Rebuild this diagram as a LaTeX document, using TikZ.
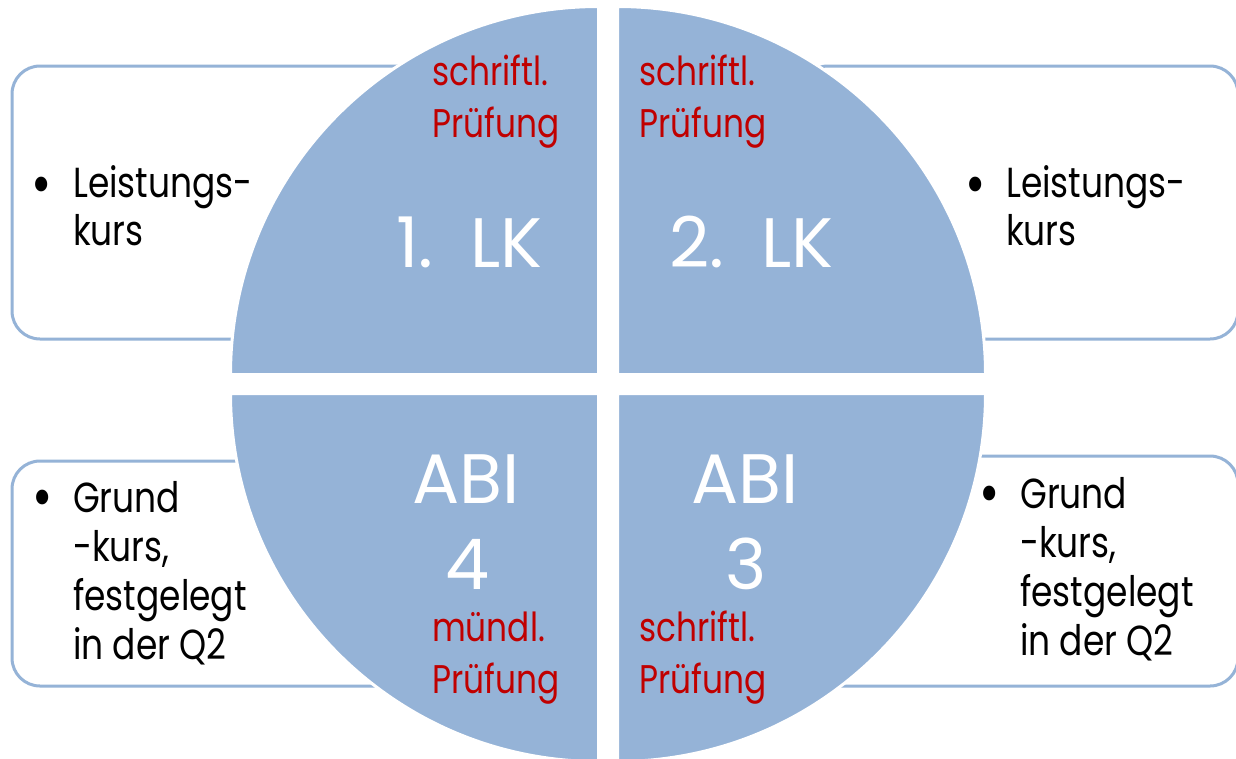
\documentclass[tikz,border=0pt]{standalone}
\usepackage{fontspec}
\setmainfont{Poppins}[FakeStretch=0.82]
\newfontfamily\bigfont{Poppins}
\definecolor{qblue}{HTML}{95B3D7}
\definecolor{qred}{HTML}{C00000}
\begin{document}
\begin{tikzpicture}[x=1pt,y=-1pt,
  boxst/.style={draw=qblue, line width=3pt, rounded corners=28pt, fill=white},
  quad/.style={fill=qblue, draw=white, line width=3pt},
  txt/.style={anchor=base west, inner sep=0pt, font=\fontsize{42}{49}\selectfont, text=black},
  bul/.style={anchor=center, inner sep=0pt, font=\fontsize{60}{60}\selectfont, text=black},
  redt/.style={anchor=base west, inner sep=0pt, font=\fontsize{40}{44}\selectfont, text=qred},
  bigt/.style={anchor=base west, inner sep=0pt, font=\bigfont\fontsize{70}{80}\selectfont, text=white}]
\useasboundingbox (0,0) rectangle (1236,758);
\fill[white] (0,0) rectangle (1236,758);
% side boxes
\draw[boxst] (12,66) rectangle (430,339);
\draw[boxst] (800,66) rectangle (1238,339);
\draw[boxst] (12,461) rectangle (430,686);
\draw[boxst] (800,456) rectangle (1238,686);
% quadrants
\draw[quad] (598.5,374.5) -- (230.5,374.5) arc[start angle=180, end angle=90, radius=368pt] -- cycle;
\draw[quad] (617.5,374.5) -- (617.5,6.5) arc[start angle=90, end angle=0, radius=368pt] -- cycle;
\draw[quad] (598.5,393.5) -- (230.5,393.5) arc[start angle=180, end angle=270, radius=368pt] -- cycle;
\draw[quad] (617.5,393.5) -- (985.5,393.5) arc[start angle=0, end angle=-90, radius=368pt] -- cycle;
% box texts
\node[bul] (b1) at (42,191) {•};
\node[txt] (t1a) at (73,197) {Leistungs-};
\node[txt] (t1b) at (73,245) {kurs};
\node[bul] (b2) at (976,191) {•};
\node[txt] (t2a) at (1006,197) {Leistungs-};
\node[txt] (t2b) at (1006,245) {kurs};
\node[bul] (b3) at (43,504) {•};
\node[txt] (t3a) at (73,512) {Grund};
\node[txt] (t3b) at (73,561) {-kurs,};
\node[txt] (t3c) at (73,610) {festgelegt};
\node[txt] (t3d) at (73,659) {in der Q2};
\node[bul] (b4) at (990,500) {•};
\node[txt] (t4a) at (1020,508) {Grund};
\node[txt] (t4b) at (1020,557) {-kurs,};
\node[txt] (t4c) at (1020,606) {festgelegt};
\node[txt] (t4d) at (1020,655) {in der Q2};
% red texts
\node[redt] (r1a) at (432,85) {schriftl.};
\node[redt] (r1b) at (432,137) {Prüfung};
\node[redt] (r2a) at (639,85) {schriftl.};
\node[redt] (r2b) at (639,137) {Prüfung};
\node[redt] (r4a) at (432,641) {mündl.};
\node[redt] (r4b) at (432,693) {Prüfung};
\node[redt] (r3a) at (639,641) {schriftl.};
\node[redt] (r3b) at (639,693) {Prüfung};
% big labels
\node[bigt] (lk1) at (396,267) {1.\kern12pt{} LK};
\node[bigt] (lk2) at (669,267) {2.\kern12pt{} LK};
\node[bigt] (abi4) at (412,503) {ABI};
\node[bigt] (n4) at (445,589) {4};
\node[bigt] (abi3) at (691,503) {ABI};
\node[bigt] (n3) at (725,589) {3};
\end{tikzpicture}
\end{document}
